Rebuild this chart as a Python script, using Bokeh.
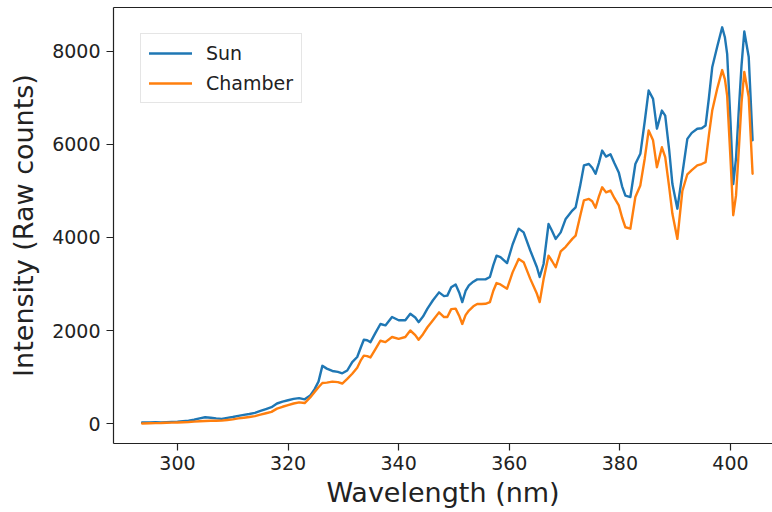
from bokeh.plotting import figure
from bokeh.models import Range1d, LinearAxis, FixedTicker, Legend, LegendItem
from bokeh.embed import file_html
from bokeh.resources import INLINE

# ---- data ----
wavelength = [293.6, 295, 296, 297, 298, 299, 300, 301, 302, 303, 304, 305, 306, 307, 308,
              309, 310, 311, 312, 313, 314, 315, 316, 317, 318, 319, 320, 321, 322, 323,
              324, 324.8, 325.5, 326.2, 327, 328, 329, 329.8, 330.7, 331.6, 332.5, 333.2,
              333.7, 334.3, 334.9, 335.8, 336.7, 337.6, 338.8, 340.0, 341.2, 342.1, 343.0,
              343.6, 344.4, 345.2, 346.2, 347.3, 348.2, 348.8, 349.5, 350.3, 351.0, 351.5,
              352.1, 352.7, 353.5, 354.2, 355.0, 355.7, 356.5, 357.1, 357.7, 358.4, 359.6,
              360.6, 361.7, 362.6, 363.8, 365.0, 365.5, 366.2, 367.1, 367.7, 368.4, 369.3,
              370.2, 371.4, 372.0, 372.8, 373.5, 374.4, 375.0, 375.6, 376.2, 376.8, 377.5,
              378.3, 379.0, 379.8, 380.4, 381.0, 381.9, 382.8, 383.7, 384.5, 385.2, 386.0,
              386.7, 387.6, 388.2, 388.9, 389.5, 390.4, 391.3, 392.2, 393.0, 394.0, 394.8,
              395.5, 396.1, 396.7, 397.6, 398.5, 399.0, 399.4, 400.0, 400.5, 401.0, 401.5,
              402.0, 402.5, 403.3, 404.0]

sun = [20, 22, 28, 25, 30, 35, 38, 50, 60, 80, 110, 135, 125, 110, 100,
       120, 140, 165, 185, 205, 230, 270, 310, 350, 430, 470, 500, 530, 545, 520,
       600, 740, 900, 1240, 1180, 1130, 1110, 1080, 1140, 1320, 1430, 1650,
       1800, 1790, 1750, 1950, 2140, 2110, 2290, 2220, 2220, 2360, 2280,
       2180, 2300, 2470, 2650, 2820, 2740, 2750, 2930, 2990, 2800, 2610,
       2850, 2970, 3050, 3100, 3100, 3100, 3150, 3400, 3610, 3580, 3450,
       3850, 4190, 4110, 3720, 3360, 3150, 3430, 4290, 4150, 3970, 4110,
       4400, 4580, 4650, 5100, 5550, 5580, 5500, 5370, 5600, 5870, 5740,
       5790, 5600, 5400, 5100, 4900, 4870, 5580, 5800, 6500, 7160, 6980,
       6340, 6730, 6620, 5900, 5150, 4620, 5370, 6120, 6250, 6340, 6350,
       6410, 7000, 7660, 8100, 8520, 8300, 7950, 6500, 5150, 5700, 6730,
       7700, 8430, 7880, 6090]

chamber = [0, 5, 8, 10, 15, 18, 22, 28, 32, 40, 48, 55, 58, 60, 62,
           75, 90, 110, 125, 140, 160, 190, 220, 250, 320, 360, 395, 430, 455, 440,
           560, 680, 780, 870, 880, 900, 890, 860, 960, 1070, 1200, 1370,
           1460, 1450, 1420, 1600, 1780, 1750, 1860, 1820, 1860, 2000, 1900,
           1800, 1920, 2070, 2220, 2390, 2290, 2290, 2460, 2470, 2300, 2140,
           2330, 2430, 2520, 2570, 2570, 2575, 2610, 2850, 3020, 2990, 2900,
           3250, 3540, 3470, 3110, 2790, 2610, 3100, 3610, 3500, 3360, 3700,
           3800, 3970, 4040, 4450, 4800, 4830, 4780, 4640, 4880, 5080, 4970,
           5010, 4850, 4690, 4430, 4220, 4190, 4870, 5120, 5700, 6300, 6090,
           5510, 5940, 5730, 5100, 4510, 3970, 5000, 5360, 5450, 5550, 5580,
           5620, 6200, 6730, 7200, 7600, 7400, 7050, 5700, 4480, 4900, 5870,
           6900, 7560, 7020, 5370]

x_ticks = [300, 320, 340, 360, 380, 400]
y_ticks = [0, 2000, 4000, 6000, 8000]

FONT = "DejaVu Sans"
DARK = "#222222"

p = figure(width=772, height=512, output_backend="svg", toolbar_location=None,
           x_range=Range1d(288.43, 407.6), y_range=Range1d(-430, 8946),
           min_border_left=113, min_border_right=0, min_border_top=7, min_border_bottom=69)

p.outline_line_color = None
p.grid.visible = False
p.background_fill_color = "white"
p.border_fill_color = "white"

r1 = p.line(wavelength, sun, line_color="#1f77b4", line_width=2.4,
            line_join="round", line_cap="round")
r2 = p.line(wavelength, chamber, line_color="#ff7f0e", line_width=2.4,
            line_join="round", line_cap="round")

for ax, ticks in ((p.xaxis[0], x_ticks), (p.yaxis[0], y_ticks)):
    ax.ticker = FixedTicker(ticks=ticks)
    ax.minor_tick_line_color = None
    ax.major_tick_out = 7
    ax.major_tick_in = 0
    ax.major_tick_line_color = DARK
    ax.major_tick_line_width = 1.2
    ax.axis_line_color = DARK
    ax.axis_line_width = 1.2
    ax.major_label_text_font = FONT
    ax.major_label_text_font_size = "19px"
    ax.major_label_text_color = DARK
    ax.axis_label_text_font = FONT
    ax.axis_label_text_font_size = "27px"
    ax.axis_label_text_font_style = "normal"
    ax.axis_label_text_color = DARK

p.xaxis.axis_label = "Wavelength (nm)"
p.yaxis.axis_label = "Intensity (Raw counts)"
p.xaxis.major_label_standoff = 5
p.xaxis.axis_label_standoff = 4
p.yaxis.major_label_standoff = 6
p.yaxis.axis_label_standoff = 10

top = LinearAxis(ticker=FixedTicker(ticks=[]), major_label_text_font_size="0px",
                 major_tick_out=0, major_tick_in=0, minor_tick_out=0, minor_tick_in=0,
                 major_label_standoff=0, axis_line_color=DARK, axis_line_width=1.2)
p.add_layout(top, "above")

legend = Legend(items=[LegendItem(label="Sun", renderers=[r1]),
                       LegendItem(label="Chamber", renderers=[r2])],
                location=(27, 340), orientation="vertical",
                label_text_font=FONT, label_text_font_size="19px", label_text_color=DARK,
                glyph_width=43, glyph_height=20, label_height=20, label_standoff=14,
                spacing=8, padding=8, margin=0,
                border_line_color="#cccccc", border_line_width=1,
                background_fill_color="white", background_fill_alpha=0.8)
p.add_layout(legend)

open("out.html", "w").write(file_html(p, INLINE))
